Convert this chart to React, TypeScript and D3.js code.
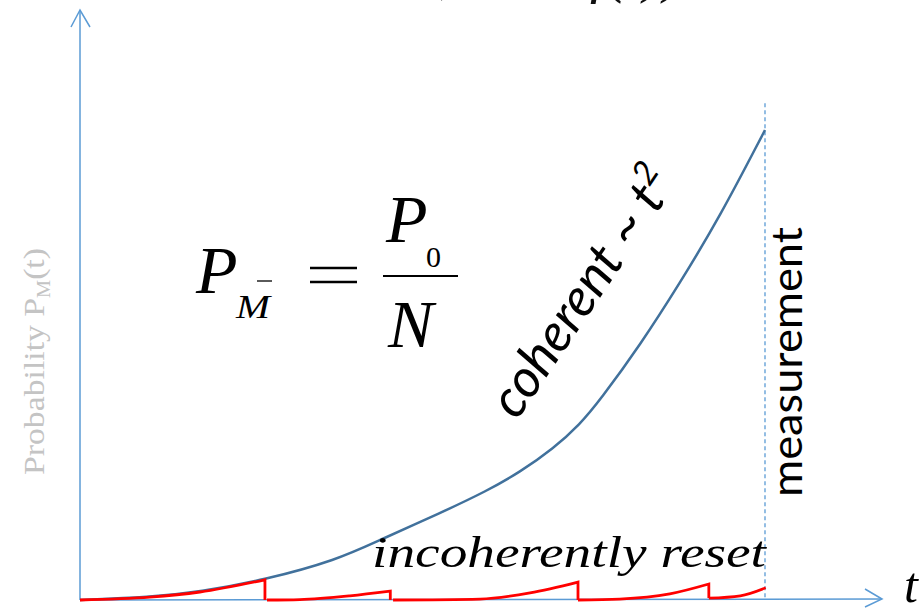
import React from "react";
import * as d3 from "d3";

// Coherent growth (t in % of measurement interval, p normalised)
const coherentT = [0, 10.2, 17.5, 27.0, 37.5, 43.8, 52.6, 59.4, 64.2, 69.1, 73.0, 75.9, 81.8, 87.6, 93.4, 100];
const coherentP = [0, 0.006, 0.017, 0.043, 0.085, 0.128, 0.185, 0.232, 0.272, 0.322, 0.374, 0.425, 0.543, 0.675, 0.815, 1.0];

// Incoherently reset segments
const seg1: [number, number][] = [[0, 0], [10.2, 0.006], [17.5, 0.017], [27.0, 0.043]];
const seg2: [number, number][] = [[27.3, 0], [32.1, 0.001], [39.4, 0.009], [45.3, 0.019]];
const seg3: [number, number][] = [[45.7, 0], [58.4, 0.002], [65.7, 0.015], [72.7, 0.038]];
const seg4: [number, number][] = [[72.7, 0], [78.8, 0.002], [86.1, 0.013], [91.8, 0.034]];
const seg5: [number, number][] = [[91.8, 0.004], [96.4, 0.009], [100.1, 0.026]];
const resetSegments = [seg1, seg2, seg3, seg4, seg5];

const measurementT = 100;

const W = 924;
const H = 610;

export default function App() {
  const x = d3.scaleLinear().domain([0, 100]).range([80, 765]);
  const y = d3.scaleLinear().domain([0, 1]).range([600, 130]);

  const line = d3
    .line<[number, number]>()
    .x((d) => x(d[0]))
    .y((d) => y(d[1]))
    .curve(d3.curveMonotoneX);

  const smooth = d3
    .line<[number, number]>()
    .x((d) => x(d[0]))
    .y((d) => y(d[1]))
    .curve(d3.curveBasis);

  const coherent = coherentT.map((t, i) => [t, coherentP[i]] as [number, number]);

  const redPaths = resetSegments.map((seg, i) => {
    let p = line(seg) as string;
    const next = resetSegments[i + 1];
    if (next) {
      const last = seg[seg.length - 1];
      p += `L${x(last[0])},${y(next[0][1])}`;
    }
    return p;
  });

  const axisColor = "#5b9bd5";
  const x0 = x(0);
  const y0 = y(0);

  return (
    <svg
      width={W}
      height={H}
      style={{ position: "fixed", left: 0, top: 0, display: "block", background: "#fff" }}
    >
      {/* clipped formula at top */}
      <g fontFamily="Liberation Serif, Times New Roman, serif" fontSize={60} fill="#111">
        <text x={424} y={-12}>(</text>
        <text x={480} y={-8}>σ</text>
        <text x={590} y={-9} fontStyle="italic">f(t)).</text>
      </g>

      {/* axes */}
      <line x1={x0} y1={y0} x2={x0} y2={10} stroke={axisColor} strokeWidth={1.5} />
      <polyline points={`${x0 - 9},27 ${x0},10 ${x0 + 10},27`} fill="none" stroke={axisColor} strokeWidth={1.5} />
      <line x1={x0} y1={y0} x2={882} y2={y0 - 1} stroke={axisColor} strokeWidth={1.5} />
      <polyline points={`865,589 882,${y0 - 1} 865,607`} fill="none" stroke={axisColor} strokeWidth={1.5} />

      {/* measurement dashed line */}
      <line
        x1={x(measurementT)}
        x2={x(measurementT)}
        y1={y(1.057)}
        y2={y0}
        stroke={axisColor}
        strokeWidth={1.3}
        strokeDasharray="4,3"
      />

      {/* coherent curve */}
      <path d={smooth(coherent) as string} fill="none" stroke="#41719c" strokeWidth={2.5} />

      {/* incoherent reset */}
      {redPaths.map((d, i) => (
        <path key={i} d={d} fill="none" stroke="#ff0000" strokeWidth={2.8} strokeLinejoin="miter" />
      ))}

      {/* y axis label (faded) */}
      <text
        transform="translate(44,475) rotate(-90)"
        fontFamily="Liberation Serif, serif"
        fontSize={30}
        fill="#c4c4c4"
        textLength={227}
        lengthAdjust="spacingAndGlyphs"
      >
        Probability  P<tspan fontSize={18} dy={6}>M</tspan><tspan dy={-6}>(t)</tspan>
      </text>

      {/* formula */}
      <g fontFamily="Liberation Serif, Times New Roman, serif" fill="#000">
        <text x={196} y={293} fontSize={68} fontStyle="italic">P</text>
        <text x={236} y={318} fontSize={33} fontStyle="italic" textLength={34} lengthAdjust="spacingAndGlyphs">M</text>
        <line x1={257} x2={272} y1={281} y2={281} stroke="#000" strokeWidth={1.3} />
        <line x1={310} x2={357} y1={268} y2={268} stroke="#000" strokeWidth={2.5} />
        <line x1={310} x2={357} y1={282} y2={282} stroke="#000" strokeWidth={2.5} />
        <text x={386} y={242} fontSize={68} fontStyle="italic">P</text>
        <text x={426} y={267} fontSize={30}>0</text>
        <line x1={383} x2={458} y1={276} y2={276} stroke="#000" strokeWidth={2.2} />
        <text x={388} y={347} fontSize={68} fontStyle="italic">N</text>
      </g>

      {/* coherent label */}
      <text
        transform="translate(517,421) rotate(-56)"
        fontFamily="Lato, Open Sans, sans-serif"
        fontStyle="italic"
        fontSize={53}
        fill="#000"
      >
        coherent ~ t<tspan fontSize={34} dy={-21}>2</tspan>
      </text>

      {/* incoherently reset label */}
      <text
        x={372}
        y={567}
        fontFamily="Liberation Serif, serif"
        fontStyle="italic"
        fontSize={45}
        fill="#000"
        textLength={394}
        lengthAdjust="spacingAndGlyphs"
      >
        incoherently reset
      </text>

      {/* measurement label */}
      <text
        transform="translate(802,497) rotate(-90)"
        fontFamily="Lato, Open Sans, sans-serif"
        fontSize={42}
        fill="#000"
        textLength={270}
        lengthAdjust="spacingAndGlyphs"
      >
        measurement
      </text>

      {/* t axis label */}
      <text x={904} y={602} fontFamily="Liberation Serif, serif" fontStyle="italic" fontSize={50} fill="#000">
        t
      </text>
    </svg>
  );
}
